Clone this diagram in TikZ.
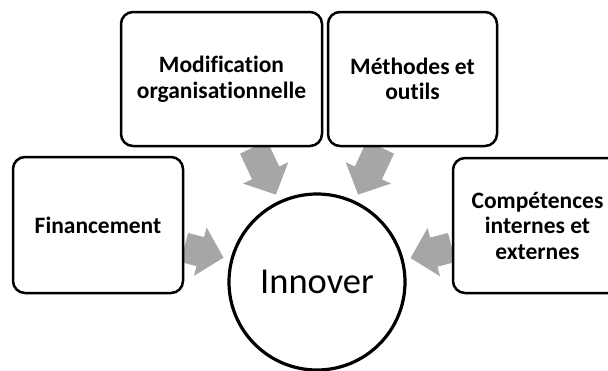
\documentclass[tikz,border=0pt]{standalone}
\usepackage{fontspec}
\setmainfont{Carlito}[Ligatures=NoCommon]
\usetikzlibrary{calc}
\pgfdeclarelayer{background}
\pgfsetlayers{background,main}
\definecolor{arrowgray}{RGB}{166,166,166}
\tikzset{
  box/.style={draw=black, line width=2.5pt, rounded corners=12pt, fill=white,
    align=center, inner sep=0pt, font=\fontsize{23.5}{25.5}\selectfont\bfseries},
  hub/.style={circle, draw=black, line width=3.2pt, fill=white,
    minimum size=176pt, inner sep=0pt, font=\fontsize{36.5}{40}\selectfont},
  arrowfill/.style={fill=arrowgray}
}
\newcommand\blockarrow[2]{%
  \path (#1) -- (#2) coordinate[pos=0] (ba-s) coordinate[pos=1] (ba-b);
  \path ($(ba-b)!7pt!(ba-s)$) coordinate (ba-e);
  \path ($(ba-e)!24pt!(ba-s)$) coordinate (ba-h);
  \fill[arrowfill] ($(ba-s)!15pt!90:(ba-e)$) -- ($(ba-h)!15pt!90:(ba-e)$)
    -- ($(ba-h)!25pt!90:(ba-e)$) -- (ba-e) -- ($(ba-h)!25pt!-90:(ba-e)$)
    -- ($(ba-h)!15pt!-90:(ba-e)$) -- ($(ba-s)!15pt!-90:(ba-e)$) -- cycle;
}
\begin{document}
\begin{tikzpicture}[x=1pt,y=-1pt]
\useasboundingbox (0,0) rectangle (608,370);
\node[box, minimum width=170pt, minimum height=136pt] (fin) at (98,225) {Financement};
\node[box, minimum width=201pt, minimum height=134pt] (mod) at (221.5,79) {Modification\\organisationnelle};
\node[box, minimum width=169pt, minimum height=134pt] (met) at (412.5,79) {Méthodes et\\outils};
\node[box, minimum width=169pt, minimum height=135pt] (comp) at (537.5,225.5) {Compétences\\internes et\\externes};
\node[hub] (circ) at (317,282) {Innover};
\begin{pgfonlayer}{background}
\blockarrow{fin}{circ}
\blockarrow{mod}{circ}
\blockarrow{met}{circ}
\blockarrow{comp}{circ}
\end{pgfonlayer}
\end{tikzpicture}
\end{document}
